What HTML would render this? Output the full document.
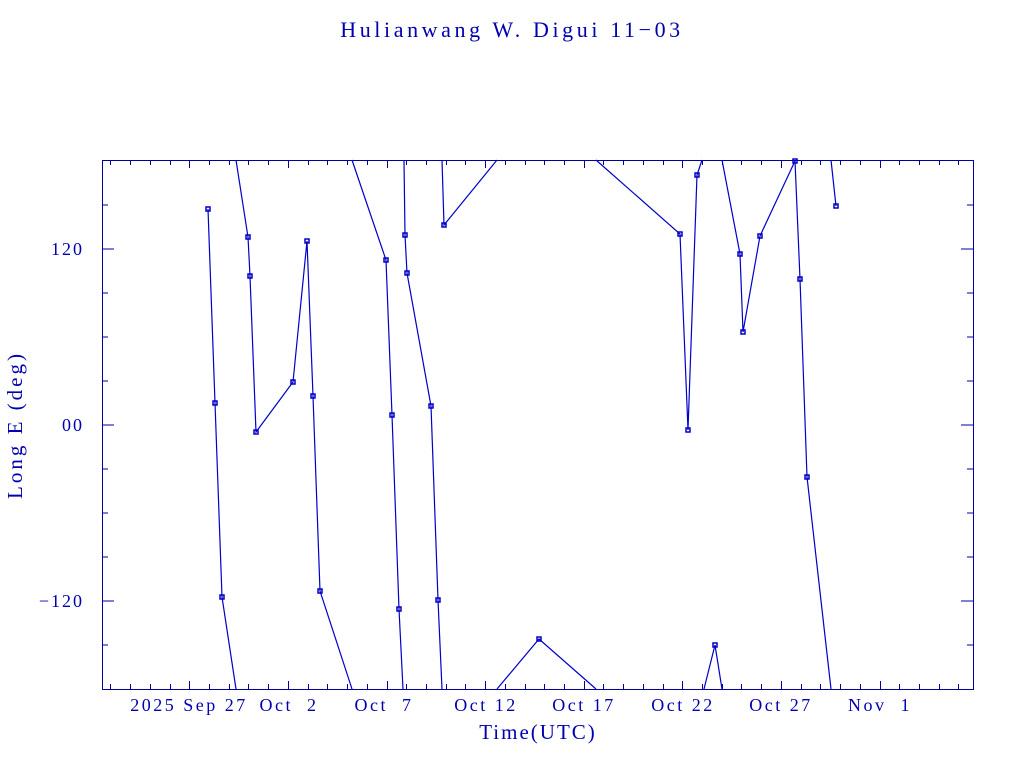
<!DOCTYPE html>
<html><head><meta charset="utf-8"><style>
html,body{margin:0;padding:0;background:#fff;}
svg{display:block;}
text{font-family:"Liberation Serif",serif;fill:#0000b0;white-space:pre;}
</style></head><body>
<svg width="1024" height="768" viewBox="0 0 1024 768" xmlns="http://www.w3.org/2000/svg">
<text x="512" y="37" font-size="22" text-anchor="middle" letter-spacing="3.6">Hulianwang W. Digui 11−03</text>
<g stroke="#0000a0" stroke-width="1" fill="none">
<rect x="102.5" y="160.5" width="871" height="529"/>
</g>
<g stroke="#0000a0" stroke-width="1">
<path d="M102 249h12M102 425h12M102 601h12M973 249h-12M973 425h-12M973 601h-12
M102 205h6M102 293h6M102 337h6M102 381h6M102 469h6M102 513h6M102 557h6M102 645h6
M973 205h-6M973 293h-6M973 337h-6M973 381h-6M973 469h-6M973 513h-6M973 557h-6M973 645h-6"/>
<path id="xticks" d=""/>
</g>
<g font-size="18" text-anchor="end" letter-spacing="2">
<text x="84" y="255">120</text>
<text x="84" y="431">00</text>
<text x="84" y="607">−120</text>
</g>
<text transform="translate(22,425) rotate(-90)" font-size="21" text-anchor="middle" letter-spacing="3">Long E (deg)</text>
<g font-size="18" text-anchor="middle" letter-spacing="2.5">
<text x="189" y="711">2025 Sep 27</text>
<text x="289" y="711">Oct  2</text>
<text x="384" y="711">Oct  7</text>
<text x="486" y="711">Oct 12</text>
<text x="584" y="711">Oct 17</text>
<text x="683" y="711">Oct 22</text>
<text x="781" y="711">Oct 27</text>
<text x="880" y="711">Nov  1</text>
</g>
<text x="538" y="739" font-size="21" text-anchor="middle" letter-spacing="2">Time(UTC)</text>
<g stroke="#0000c8" stroke-width="1.2" fill="none">
<polyline points="208,209 215,403 222,597 236,689"/>
<polyline points="236,160 248,237 250,276 256,432 293,382 307,241 313,396 320,591 352,689"/>
<polyline points="352,160 386,260 392,415 399,609 403,689"/>
<polyline points="404,160 405,235 407,273 431,406 438,600 442,689"/>
<polyline points="442,160 444,225 497,160"/>
<polyline points="497,689 539,639 596,689"/>
<polyline points="596,160 680,234 688,430 697,175 702,160"/>
<polyline points="704,689 715,645 722,689"/>
<polyline points="722,160 740,254 743,332 760,236 795,161 800,279 807,477 831,689"/>
<polyline points="831,160 836,206"/>
</g>
<g fill="none" stroke="#0000c8" stroke-width="1.5">
<rect x="206" y="207" width="4" height="4"/><rect x="213" y="401" width="4" height="4"/><rect x="220" y="595" width="4" height="4"/>
<rect x="246" y="235" width="4" height="4"/><rect x="248" y="274" width="4" height="4"/><rect x="254" y="430" width="4" height="4"/>
<rect x="291" y="380" width="4" height="4"/><rect x="305" y="239" width="4" height="4"/><rect x="311" y="394" width="4" height="4"/>
<rect x="318" y="589" width="4" height="4"/><rect x="384" y="258" width="4" height="4"/><rect x="390" y="413" width="4" height="4"/>
<rect x="397" y="607" width="4" height="4"/><rect x="403" y="233" width="4" height="4"/><rect x="405" y="271" width="4" height="4"/>
<rect x="429" y="404" width="4" height="4"/><rect x="436" y="598" width="4" height="4"/><rect x="442" y="223" width="4" height="4"/>
<rect x="537" y="637" width="4" height="4"/><rect x="678" y="232" width="4" height="4"/><rect x="686" y="428" width="4" height="4"/>
<rect x="695" y="173" width="4" height="4"/><rect x="713" y="643" width="4" height="4"/><rect x="738" y="252" width="4" height="4"/>
<rect x="741" y="330" width="4" height="4"/><rect x="758" y="234" width="4" height="4"/><rect x="793" y="159" width="4" height="4"/>
<rect x="798" y="277" width="4" height="4"/><rect x="805" y="475" width="4" height="4"/><rect x="834" y="204" width="4" height="4"/>
</g>
<script>
(function(){
var d="";
for(var i=-4;i<=40;i++){
 var x=189.3+i*19.72; if(x<103||x>972)continue;
 var major=((i%5)+5)%5===0; var L=major?8:5;
 x=Math.round(x)+0.5;
 d+="M"+x+" 689v-"+L+"M"+x+" 160v"+L;
}
document.getElementById("xticks").setAttribute("d",d);
})();
</script>
</svg>
</body></html>
